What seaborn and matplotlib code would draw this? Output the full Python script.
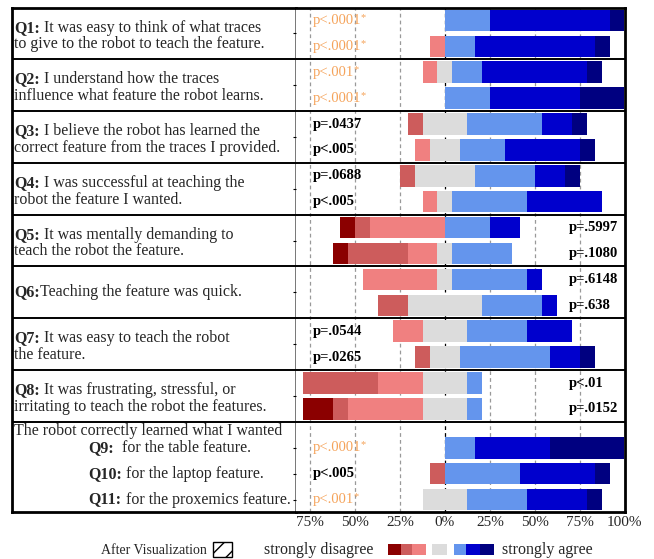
import numpy as np
import pandas as pd
import matplotlib.pyplot as plt
from matplotlib.patches import Rectangle
import seaborn as sns

# answers per row (12 participants); Q1-Q8 have two rows, Q9-Q11 one row
strongly_disagree = [0, 0, 0, 0, 0, 0, 0, 0, 1, 1, 0, 0, 0, 0, 0, 2, 0, 0, 0]
disagree          = [0, 0, 0, 0, 1, 0, 1, 0, 1, 4, 0, 2, 0, 1, 5, 1, 0, 1, 0]
somewhat_disagree = [0, 1, 1, 0, 0, 1, 0, 1, 5, 2, 5, 0, 2, 0, 3, 5, 0, 0, 0]
neutral           = [0, 0, 1, 0, 3, 2, 4, 1, 0, 1, 1, 5, 3, 2, 3, 3, 0, 0, 3]
somewhat_agree    = [3, 2, 2, 3, 5, 3, 4, 5, 3, 4, 5, 4, 4, 6, 1, 1, 2, 5, 4]
agree             = [8, 8, 7, 6, 2, 5, 2, 5, 2, 0, 1, 1, 3, 2, 0, 0, 5, 5, 4]
strongly_agree    = [1, 1, 1, 3, 1, 1, 1, 0, 0, 0, 0, 0, 0, 1, 0, 0, 5, 1, 1]

p_values = ["p<.0001", "p<.0001", "p<.001", "p<.0001", "p=.0437", "p<.005",
            "p=.0688", "p<.005", "p=.5997", "p=.1080", "p=.6148", "p=.638",
            "p=.0544", "p=.0265", "p<.01", "p=.0152", "p<.0001", "p<.005", "p<.001"]
p_starred = [1, 1, 1, 1, 0, 0, 0, 0, 0, 0, 0, 0, 0, 0, 0, 0, 1, 0, 1]
p_right   = [0, 0, 0, 0, 0, 0, 0, 0, 1, 1, 1, 1, 0, 0, 1, 1, 0, 0, 0]

questions = [
    ("Q1:", " It was easy to think of what traces", "to give to the robot to teach the feature."),
    ("Q2:", " I understand how the traces", "influence what feature the robot learns."),
    ("Q3:", " I believe the robot has learned the", "correct feature from the traces I provided."),
    ("Q4:", " I was successful at teaching the", "robot the feature I wanted."),
    ("Q5:", " It was mentally demanding to", "teach the robot the feature."),
    ("Q6:", "Teaching the feature was quick.", None),
    ("Q7:", " It was easy to teach the robot", "the feature."),
    ("Q8:", " It was frustrating, stressful, or", "irritating to teach the robot the features."),
]
group_header = "The robot correctly learned what I wanted"
sub_questions = [("Q9:", "  for the table feature."),
                 ("Q10:", " for the laptop feature."),
                 ("Q11:", " for the proxemics feature.")]

tick_vals = [-75, -50, -25, 0, 25, 50, 75, 100]
tick_labels = ["75%", "50%", "25%", "0%", "25%", "50%", "75%", "100%"]

level_names = ["strongly disagree", "disagree", "somewhat disagree", "neutral",
               "somewhat agree", "agree", "strongly agree"]
level_colors = ["#8b0000", "#cd5c5c", "#f08080", "#dcdcdc", "#6495ed", "#0000cd", "#000080"]
orange = "#f5a35a"

sns.set_theme(style="white")
plt.rcParams["font.family"] = ["Liberation Serif", "DejaVu Serif"]
FS_Q = 11.5   # question text
FS_P = 10.5   # p-values
FS_T = 11     # ticks / legend

W, H = 654, 559
fig = plt.figure(figsize=(W / 100, H / 100), dpi=100)


def fx(px):
    return px / W


def fy(px):
    return 1 - px / H


top, bot = 8, 512
ax_txt = fig.add_axes([fx(12), fy(bot), fx(296) - fx(12), fy(top) - fy(bot)])
ax = fig.add_axes([fx(296), fy(bot), fx(625) - fx(296), fy(top) - fy(bot)], sharey=ax_txt)

# long table of bar segments
counts = np.array([strongly_disagree, disagree, somewhat_disagree, neutral,
                   somewhat_agree, agree, strongly_agree], dtype=float)
n_rows = counts.shape[1]
pct = counts / counts.sum(axis=0) * 100
row_pos = np.array([i if i < 16 else i + 0.5 for i in range(n_rows)])
start = -(pct[0] + pct[1] + pct[2]) - pct[3] / 2
lefts = start + np.vstack([np.zeros(n_rows), np.cumsum(pct, axis=0)[:-1]])

rows = []
for k, name in enumerate(level_names):
    for i in range(n_rows):
        rows.append(dict(level=name, pos=row_pos[i], pct=pct[k, i], left=lefts[k, i]))
df = pd.DataFrame(rows)

# grid lines
for v in tick_vals[:-1]:
    ax.axvline(v, color="black" if v == 0 else "#999999", lw=0.9,
               ls=(0, (3, 2.5)), zorder=1)

for k, name in enumerate(level_names):
    d = df[df.level == name].sort_values("pos")
    sns.barplot(data=d, x="pct", y="pos", orient="h", native_scale=True,
                color=level_colors[k], saturation=1, width=0.83, errorbar=None,
                left=d["left"].values, linewidth=0, zorder=3, ax=ax)

ax.set_xlim(-83, 100.3)
ax.set_ylim(18.98, -0.48)
ax.set_xlabel("")
ax.set_ylabel("")
ax.set_xticks(tick_vals)
ax.set_xticklabels(tick_labels, fontsize=FS_T)
ax.tick_params(axis="x", length=0, pad=3)
sec_centers = [0.5, 2.5, 4.5, 6.5, 8.5, 10.5, 12.5, 14.5, 16.5, 17.5, 18.5]
ax.set_yticks(sec_centers)
ax.set_yticklabels([])
ax.tick_params(axis="y", length=2, width=0.8, left=True, color="black")

# borders and section separators
for a in (ax, ax_txt):
    for s in a.spines.values():
        s.set_color("black")
        s.set_linewidth(2)
    for b in np.arange(1.5, 16, 2):
        a.axhline(b, color="black", lw=1.4, zorder=4)
ax.spines["left"].set_visible(False)
ax_txt.spines["right"].set_color("#777777")
ax_txt.spines["right"].set_linewidth(1.4)
ax_txt.set_xticks([])
ax_txt.tick_params(axis="y", left=False, labelleft=False)
ax_txt.set_xlim(0, 1)

# p-values
for i, lab in enumerate(p_values):
    x = 69 if p_right[i] else -73.5
    col = orange if p_starred[i] else "black"
    wt = "normal" if p_starred[i] else "bold"
    t = ax.text(x, row_pos[i], lab, color=col, fontsize=FS_P, fontweight=wt,
                va="center", ha="left", zorder=5)
    if p_starred[i]:
        ax.annotate("*", xy=(1, 1), xycoords=t, color=col, fontsize=7.5,
                    va="top", ha="left", xytext=(-0.8, 0.5), textcoords="offset points")

# question text
tr = ax_txt.get_yaxis_transform()
for q, (bold, line1, line2) in enumerate(questions):
    c = 2 * q + 0.6
    y1 = c - 0.32 if line2 else c - 0.1
    t = ax_txt.text(0.008, y1, bold, transform=tr, fontsize=FS_Q, fontweight="bold",
                    va="center", ha="left")
    ax_txt.annotate(line1, xy=(1, 0), xycoords=t, fontsize=FS_Q, va="bottom", ha="left")
    if line2:
        ax_txt.text(0.008, c + 0.32, line2, transform=tr, fontsize=FS_Q,
                    va="center", ha="left")

ax_txt.text(0.008, 15.87, group_header, transform=tr, fontsize=FS_Q, va="center", ha="left")
for j, (bold, rest) in enumerate(sub_questions):
    t = ax_txt.text(0.27, row_pos[16 + j], bold, transform=tr, fontsize=FS_Q,
                    fontweight="bold", va="center", ha="left")
    ax_txt.annotate(rest, xy=(1, 0), xycoords=t, fontsize=FS_Q, va="bottom", ha="left")

# legend at the bottom
fig.text(fx(207), fy(550), "After Visualization", fontsize=FS_T - 1, ha="right", va="center")
fig.patches.append(Rectangle((fx(213), fy(557)), fx(19), 15 / H, transform=fig.transFigure,
                             facecolor="white", edgecolor="black", hatch="//", lw=1))
fig.text(fx(264), fy(550), "strongly disagree", fontsize=FS_T + 0.5, ha="left", va="center")
sq_x = [388, 401, 412, 432, 454, 466, 480]
sq_w = [13, 11, 14, 15, 12, 14, 14]
for k in range(7):
    fig.patches.append(Rectangle((fx(sq_x[k]), fy(555)), fx(sq_w[k]), 11 / H,
                                 transform=fig.transFigure,
                                 facecolor=level_colors[k], lw=0))
fig.text(fx(502), fy(550), "strongly agree", fontsize=FS_T + 0.5, ha="left", va="center")

fig.savefig("out.png", dpi=100)
